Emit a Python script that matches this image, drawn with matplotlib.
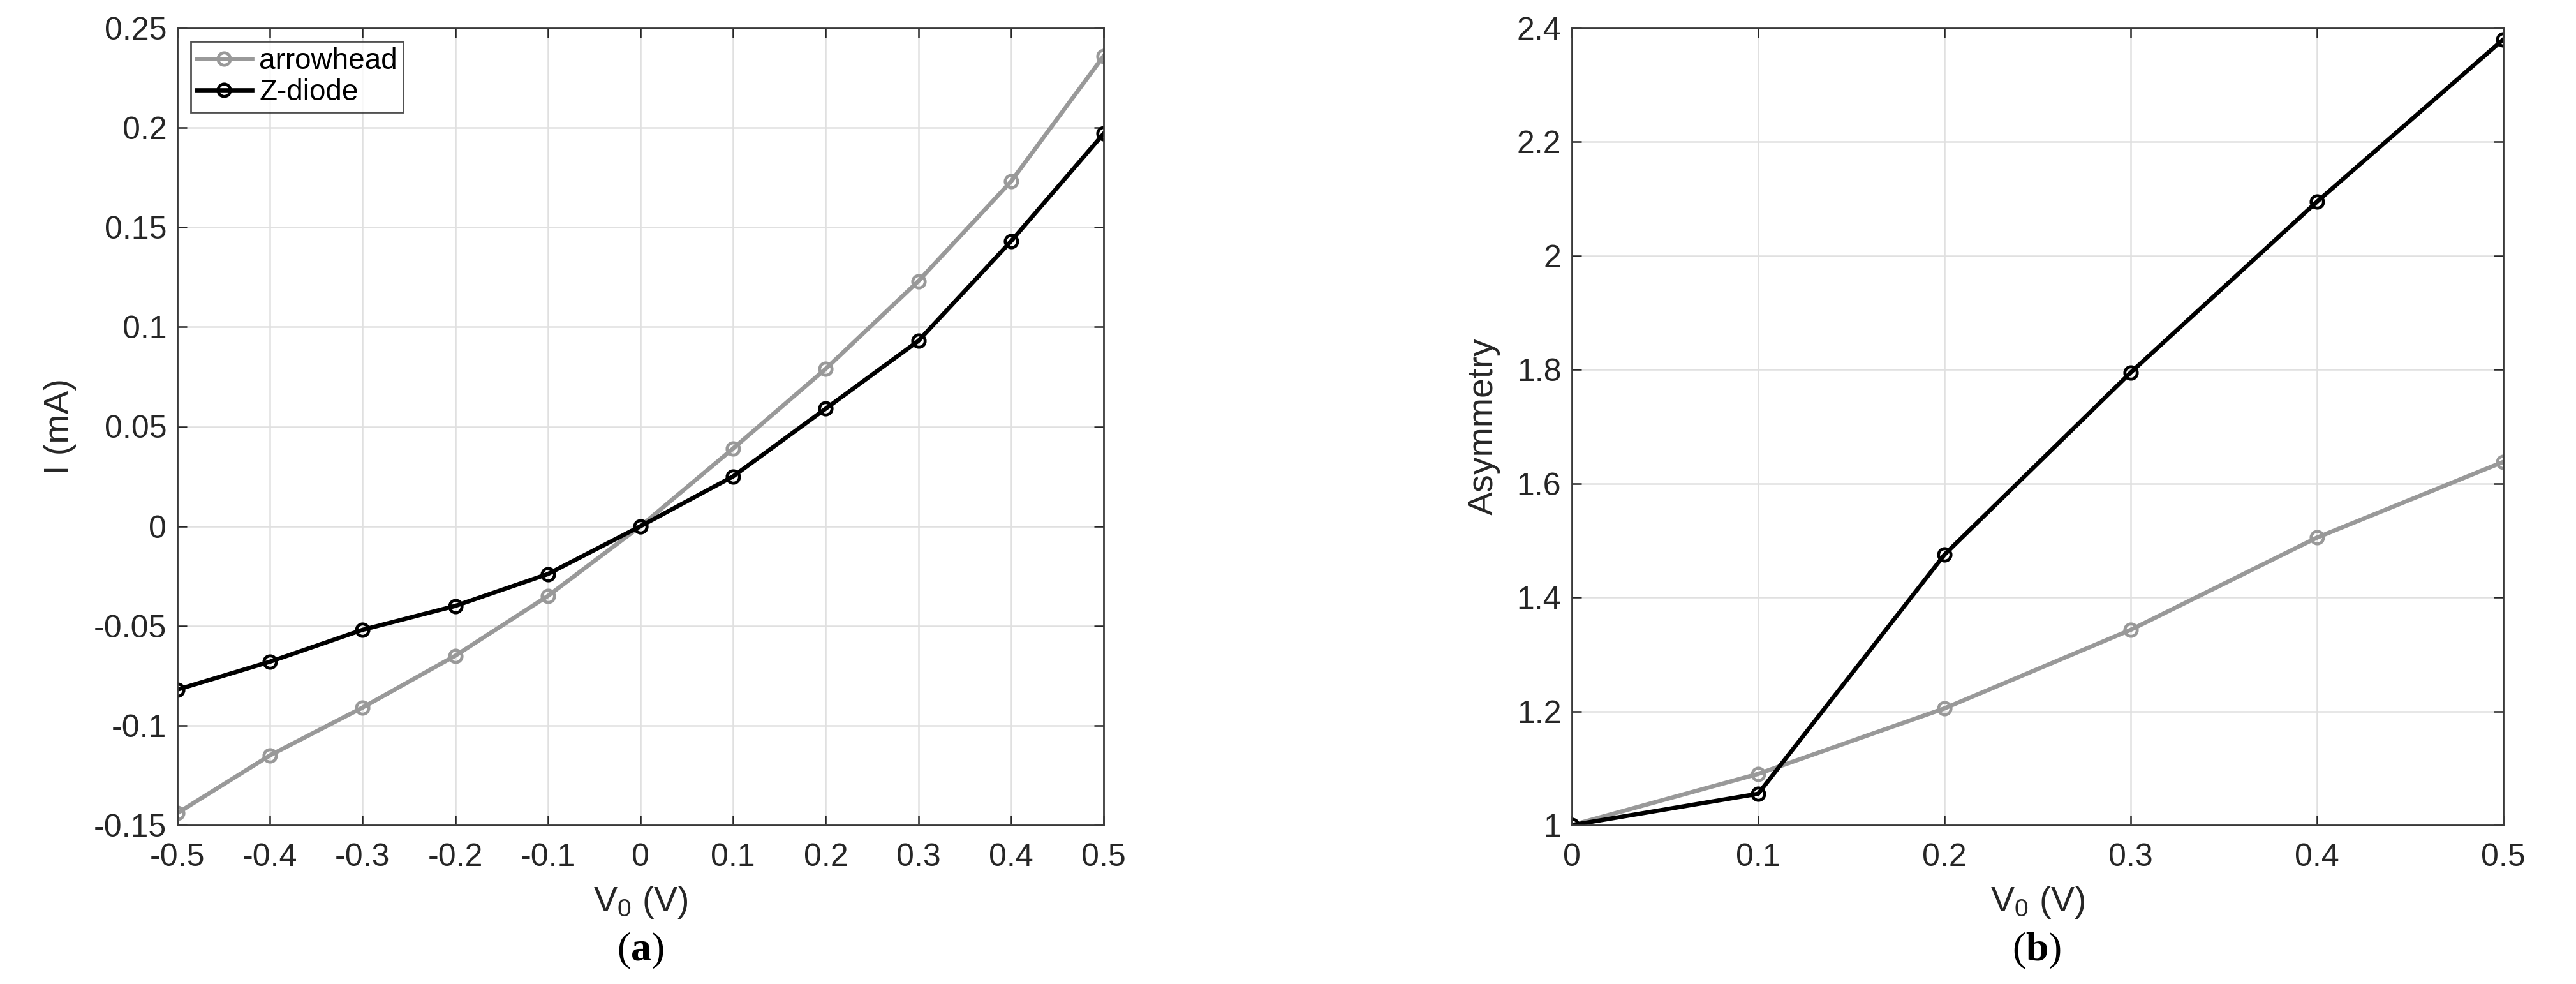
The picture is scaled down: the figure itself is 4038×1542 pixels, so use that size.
import matplotlib
matplotlib.use("Agg")
import matplotlib.pyplot as plt
from matplotlib.ticker import FixedLocator, FuncFormatter

plt.rcParams['font.family'] = ['Liberation Sans', 'DejaVu Sans']
plt.rcParams['mathtext.fontset'] = 'custom'
plt.rcParams['mathtext.rm'] = 'Liberation Sans'
plt.rcParams['mathtext.it'] = 'Liberation Sans'
plt.rcParams['mathtext.bf'] = 'Liberation Serif:bold'
plt.rcParams['axes.unicode_minus'] = False

# data
V_iv = [-0.5, -0.4, -0.3, -0.2, -0.1, 0.0, 0.1, 0.2, 0.3, 0.4, 0.5]
I_arrow = [-0.144, -0.115, -0.091, -0.065, -0.035, 0.0, 0.039, 0.079, 0.123, 0.173, 0.236]
I_zdiode = [-0.082, -0.068, -0.052, -0.040, -0.024, 0.0, 0.025, 0.059, 0.093, 0.143, 0.197]

V_asym = [0.0, 0.1, 0.2, 0.3, 0.4, 0.5]
A_arrow = [1.0, 1.09, 1.205, 1.343, 1.505, 1.638]
A_zdiode = [1.0, 1.055, 1.475, 1.795, 2.095, 2.38]

yticks_iv = [-0.15, -0.1, -0.05, 0, 0.05, 0.1, 0.15, 0.2, 0.25]
xticks_iv = [-0.5, -0.4, -0.3, -0.2, -0.1, 0, 0.1, 0.2, 0.3, 0.4, 0.5]
yticks_as = [1, 1.2, 1.4, 1.6, 1.8, 2, 2.2, 2.4]
xticks_as = [0, 0.1, 0.2, 0.3, 0.4, 0.5]

gray = '#999999'
W, H = 4038, 1542
fig = plt.figure(figsize=(W / 100, H / 100), dpi=100)

top, bot = 44, 1293
ax1 = fig.add_axes([278 / W, 1 - bot / H, (1730 - 278) / W, (bot - top) / H])
ax2 = fig.add_axes([2464 / W, 1 - bot / H, (3924 - 2464) / W, (bot - top) / H])


def matlab_fmt(v, pos):
    s = ('%.2f' % v).rstrip('0').rstrip('.')
    if s in ('-0', ''):
        s = '0'
    return s


def style(ax, xt, yt):
    ax.xaxis.set_major_locator(FixedLocator(xt))
    ax.yaxis.set_major_locator(FixedLocator(yt))
    ax.xaxis.set_major_formatter(FuncFormatter(matlab_fmt))
    ax.yaxis.set_major_formatter(FuncFormatter(matlab_fmt))
    ax.grid(True, color='#e0e0e0', linewidth=1.8)
    ax.set_axisbelow(True)
    ax.tick_params(direction='in', length=11, width=1.8, top=True, right=True,
                   labelsize=36, colors='#262626')
    ax.tick_params(axis='x', pad=20)
    ax.tick_params(axis='y', pad=12)
    for sp in ax.spines.values():
        sp.set_color('#3a3a3a')
        sp.set_linewidth(2.0)


kw = dict(linewidth=4.8, marker='o', markersize=14, markerfacecolor='none',
          markeredgewidth=3.4)

ax1.plot(V_iv, I_arrow, color=gray, label='arrowhead', **kw)
ax1.plot(V_iv, I_zdiode, color='black', label='Z-diode', **kw)
ax1.set_xlim(-0.5, 0.5)
ax1.set_ylim(-0.15, 0.25)
style(ax1, xticks_iv, yticks_iv)
ax1.set_ylabel('I (mA)', fontsize=40, color='#262626')
ax1.yaxis.set_label_coords(-(278 - 120) / (1730 - 278), 0.5)
ax1.set_xlabel(r'V$_0$ (V)', fontsize=40, color='#262626')
ax1.xaxis.set_label_coords(0.5, -(1386 - bot) / (bot - top))
leg = ax1.legend(loc='upper left', fontsize=33, frameon=True, fancybox=False,
                 edgecolor='#262626', borderaxespad=0.45, handlelength=1.9,
                 handletextpad=0.25, borderpad=0.2, labelspacing=0.12)
leg.get_frame().set_linewidth(2.0)

ax2.plot(V_asym, A_arrow, color=gray, **kw)
ax2.plot(V_asym, A_zdiode, color='black', **kw)
ax2.set_xlim(0, 0.5)
ax2.set_ylim(1, 2.4)
style(ax2, xticks_as, yticks_as)
ax2.set_ylabel('Asymmetry', fontsize=40, color='#262626')
ax2.yaxis.set_label_coords(-(2464 - 2352) / (3924 - 2464), 0.5)
ax2.set_xlabel(r'V$_0$ (V)', fontsize=40, color='#262626')
ax2.xaxis.set_label_coords(0.5, -(1386 - bot) / (bot - top))

for lab, xc in (('a', 1004), ('b', 3193)):
    fig.text(xc / W, 1 - 1490 / H, r'($\mathbf{%s}$)' % lab, fontsize=46,
             family='Liberation Serif', ha='center', va='center')

fig.savefig('out.png', dpi=100, facecolor='white')
